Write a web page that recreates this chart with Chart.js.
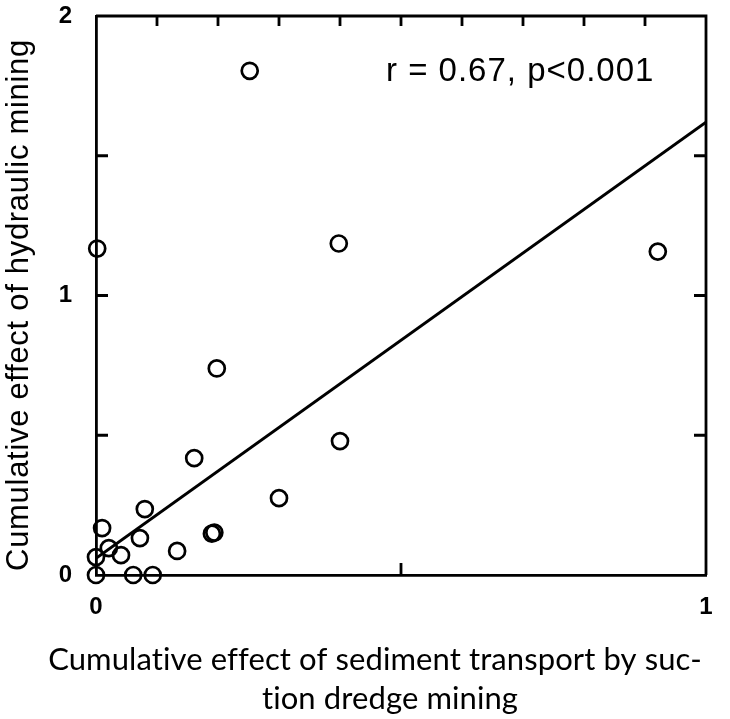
<!DOCTYPE html>
<html>
<head>
<meta charset="utf-8">
<script src="https://cdn.jsdelivr.net/npm/chart.js@4"></script>
<style>
    body { margin: 0; background: #fff; }
    canvas { display: block; }
</style>
</head>
<body>
<canvas id="chart" width="730" height="719"></canvas>
<script>
// scatter points
const dredgeEffect = [0.252, 0.002, 0.398, 0.921, 0.198, 0.400, 0.161, 0.300, 0.080, 0.010,
    0.072, 0.190, 0.194, 0.133, 0.021, 0.041, 0.000, 0.000, 0.061, 0.093];
const hydraulicEffect = [1.804, 1.168, 1.186, 1.157, 0.739, 0.479, 0.418, 0.275, 0.236, 0.168,
    0.132, 0.148, 0.152, 0.086, 0.096, 0.071, 0.064, 0.000, 0.000, 0.000];

// regression line end points
const fitX = [0, 1];
const fitY = [0.06, 1.62];

// axis labels and tick marks
const xTickLabels = [0, 1];
const yTickLabels = [0, 1, 2];
const topTicks = [0.1, 0.2, 0.3, 0.4, 0.5, 0.6, 0.7, 0.8, 0.9];
const bottomTicks = [0.5];
const sideTicks = [0.5, 1, 1.5];

const xTitle = ['Cumulative effect of sediment transport by suc-', 'tion dredge mining'];
const yTitle = 'Cumulative effect of hydraulic mining';
const statText = 'r = 0.67, p<0.001';

const points = dredgeEffect.map((x, i) => ({ x: x, y: hydraulicEffect[i] }));
const fitLine = fitX.map((x, i) => ({ x: x, y: fitY[i] }));

// draws the box, the inward ticks, the axis titles and the r/p note
const framePlugin = {
    id: 'frame',
    afterDraw(chart) {
        const ctx = chart.ctx;
        const { left, right, top, bottom } = chart.chartArea;
        const xs = chart.scales.x;
        const ys = chart.scales.y;

        ctx.save();
        ctx.strokeStyle = '#000';
        ctx.lineWidth = 2.8;
        ctx.beginPath();
        ctx.moveTo(left, top);
        ctx.lineTo(right, top);
        ctx.lineTo(right, bottom);
        topTicks.forEach(v => {
            const px = xs.getPixelForValue(v);
            ctx.moveTo(px, top);
            ctx.lineTo(px, top + 10);
        });
        bottomTicks.forEach(v => {
            const px = xs.getPixelForValue(v);
            ctx.moveTo(px, bottom);
            ctx.lineTo(px, bottom - 12);
        });
        sideTicks.forEach(v => {
            const py = ys.getPixelForValue(v);
            ctx.moveTo(left, py);
            ctx.lineTo(left + 12, py);
            ctx.moveTo(right, py);
            ctx.lineTo(right - 12, py);
        });
        ctx.stroke();

        ctx.fillStyle = '#000';
        ctx.textBaseline = 'middle';

        // r and p value
        ctx.font = '33px "Liberation Sans", Arial, sans-serif';
        ctx.letterSpacing = '1px';
        ctx.textAlign = 'left';
        ctx.fillText(statText, 386, 72);

        // y title
        ctx.save();
        ctx.font = '31px "Liberation Sans", Arial, sans-serif';
        ctx.translate(19, 305);
        ctx.rotate(-Math.PI / 2);
        ctx.letterSpacing = '0.7px';
        ctx.textAlign = 'center';
        ctx.fillText(yTitle, 0, 0);
        ctx.restore();

        // x title, two lines (small spacing keeps "ti" from joining)
        ctx.font = '31px Lato, "Open Sans", sans-serif';
        ctx.letterSpacing = '0.1px';
        ctx.textAlign = 'center';
        ctx.fillText(xTitle[0], 375, 660);
        ctx.fillText(xTitle[1], 390, 699);
        ctx.restore();
    }
};

const tickFont = { family: '"Liberation Sans", Arial, sans-serif', size: 24, weight: 'bold' };

new Chart(document.getElementById('chart'), {
    type: 'scatter',
    data: {
        datasets: [{
            data: points,
            pointStyle: 'circle',
            pointRadius: 8,
            pointBorderWidth: 2.7,
            pointBorderColor: '#000',
            pointBackgroundColor: 'rgba(0,0,0,0)',
            clip: false
        }, {
            type: 'line',
            data: fitLine,
            borderColor: '#000',
            borderWidth: 3,
            pointRadius: 0,
            fill: false
        }]
    },
    options: {
        responsive: false,
        animation: false,
        layout: { padding: { top: 16, right: 24, left: 0, bottom: 0 } },
        plugins: {
            legend: { display: false },
            tooltip: { enabled: false }
        },
        scales: {
            x: {
                type: 'linear',
                min: 0,
                max: 1,
                afterBuildTicks: s => { s.ticks = xTickLabels.map(v => ({ value: v })); },
                afterFit: s => { s.height = 144; s.paddingLeft = 0; s.paddingRight = 0; },
                grid: { display: false, drawTicks: false },
                border: { display: true, color: '#000', width: 2.8 },
                ticks: { color: '#000', padding: 18, font: tickFont }
            },
            y: {
                type: 'linear',
                min: 0,
                max: 2,
                afterBuildTicks: s => { s.ticks = yTickLabels.map(v => ({ value: v })); },
                afterFit: s => { s.width = 96; s.paddingTop = 0; s.paddingBottom = 0; },
                grid: { display: false, drawTicks: false },
                border: { display: true, color: '#000', width: 2.8 },
                ticks: { color: '#000', padding: 24, font: tickFont }
            }
        }
    },
    plugins: [framePlugin]
});
</script>
</body>
</html>
